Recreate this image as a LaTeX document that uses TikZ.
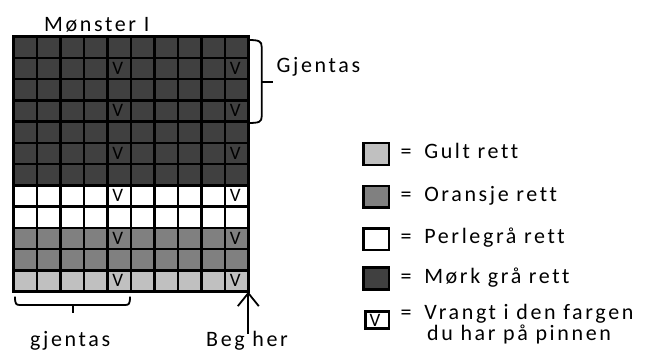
\documentclass[tikz,border=0pt]{standalone}
\usepackage{fontspec}
\setmainfont{Carlito}[LetterSpace=12, Ligatures={NoCommon}]
\usetikzlibrary{arrows.meta}
\definecolor{darkgr}{HTML}{404040}
\definecolor{orangegr}{HTML}{808080}
\definecolor{yellowgr}{HTML}{C0C0C0}
\newcommand{\eqsp}{=\hspace{5pt} }
\tikzset{
  lbl/.style={inner sep=0pt, anchor=base west, font=\fontsize{22}{24}\selectfont},
  vmark/.style={inner sep=0pt, font=\fontsize{19}{21}\selectfont},
  gridline/.style={line width=2.6pt, black},
  legbox/.style={line width=2.6pt, black},
  bracel/.style={line width=1.8pt, black, line join=round},
}
\begin{document}
\begin{tikzpicture}[x=1pt,y=-1pt]
\useasboundingbox (0,0) rectangle (646,352);
% bands
\fill[darkgr] (13.3,36.7) rectangle (248.3,185.4);
\fill[orangegr] (13.3,227.9) rectangle (248.3,270.4);
\fill[yellowgr] (13.3,270.4) rectangle (248.3,291.7);
% grid lines
\foreach \c in {1,...,9} \draw[gridline] ({13.3+\c*23.5},36.7) -- ({13.3+\c*23.5},291.7);
\foreach \r in {1,...,11} \draw[gridline] (13.3,{36.7+\r*21.25}) -- (248.3,{36.7+\r*21.25});
\draw[gridline] (13.3,36.7) rectangle (248.3,291.7);
\coordinate (corner) at (248.3,291.7);
% V marks
\foreach \r in {1,3,5,7,9,11} \foreach \c in {4,9}
  \node[vmark] (v-\r-\c) at ({13.3+\c*23.5+10.4},{36.7+\r*21.25+10.2}) {V};
% title
\node[lbl] (title) at (44,31.7) {Mønster I};
% right brace
\draw[bracel] (248.3,40) .. controls (259,40) and (261.7,41) .. (261.7,47) -- (261.7,116.5) .. controls (261.7,122) and (259,123) .. (248.3,123);
\draw[bracel] (261.7,81.7) -- (272.7,81.7);
\node[lbl] (gjentasR) at (276.5,72.8) {Gjentas};
% bottom brace
\draw[bracel] (15,296.7) .. controls (15,304) and (16,305) .. (20,305) -- (125,305) .. controls (129,305) and (130,304) .. (130,296.7);
\draw[bracel] (72.7,305) -- (72.7,313.3);
\node[lbl] (gjentasB) at (30,346.5) {gjentas};
% Beg her
\node[lbl] (beg) at (206,346.5) {Beg her};
\coordinate (arrstart) at (248.3,334);
\draw[line width=1.8pt, -{Straight Barb[length=13pt,width=21pt]}] (arrstart) -- (corner);
% legend
\draw[legbox, fill=yellowgr] (363.5,143) rectangle (389,165);
\node[lbl] (l1) at (400.5,158.5) {\eqsp Gult rett};
\draw[legbox, fill=orangegr] (363.5,186) rectangle (389,207.5);
\node[lbl] (l2) at (400.5,201.2) {\eqsp Oransje rett};
\draw[legbox, fill=white] (363.5,228.3) rectangle (389,250);
\node[lbl] (l3) at (400.5,243.5) {\eqsp Perlegrå rett};
\draw[legbox, fill=darkgr] (363.5,267.5) rectangle (389,289.5);
\node[lbl] (l4) at (400.5,283.3) {\eqsp Mørk grå rett};
\draw[legbox, fill=white] (365.5,311.5) rectangle (389,328.5);
\node[vmark] (lv) at (375,320) {V};
\node[lbl] (l5) at (400.5,319.3) {\eqsp Vrangt i den fargen};
\node[lbl] (l6) at (427,340.5) {du har på pinnen};
\end{tikzpicture}
\end{document}
